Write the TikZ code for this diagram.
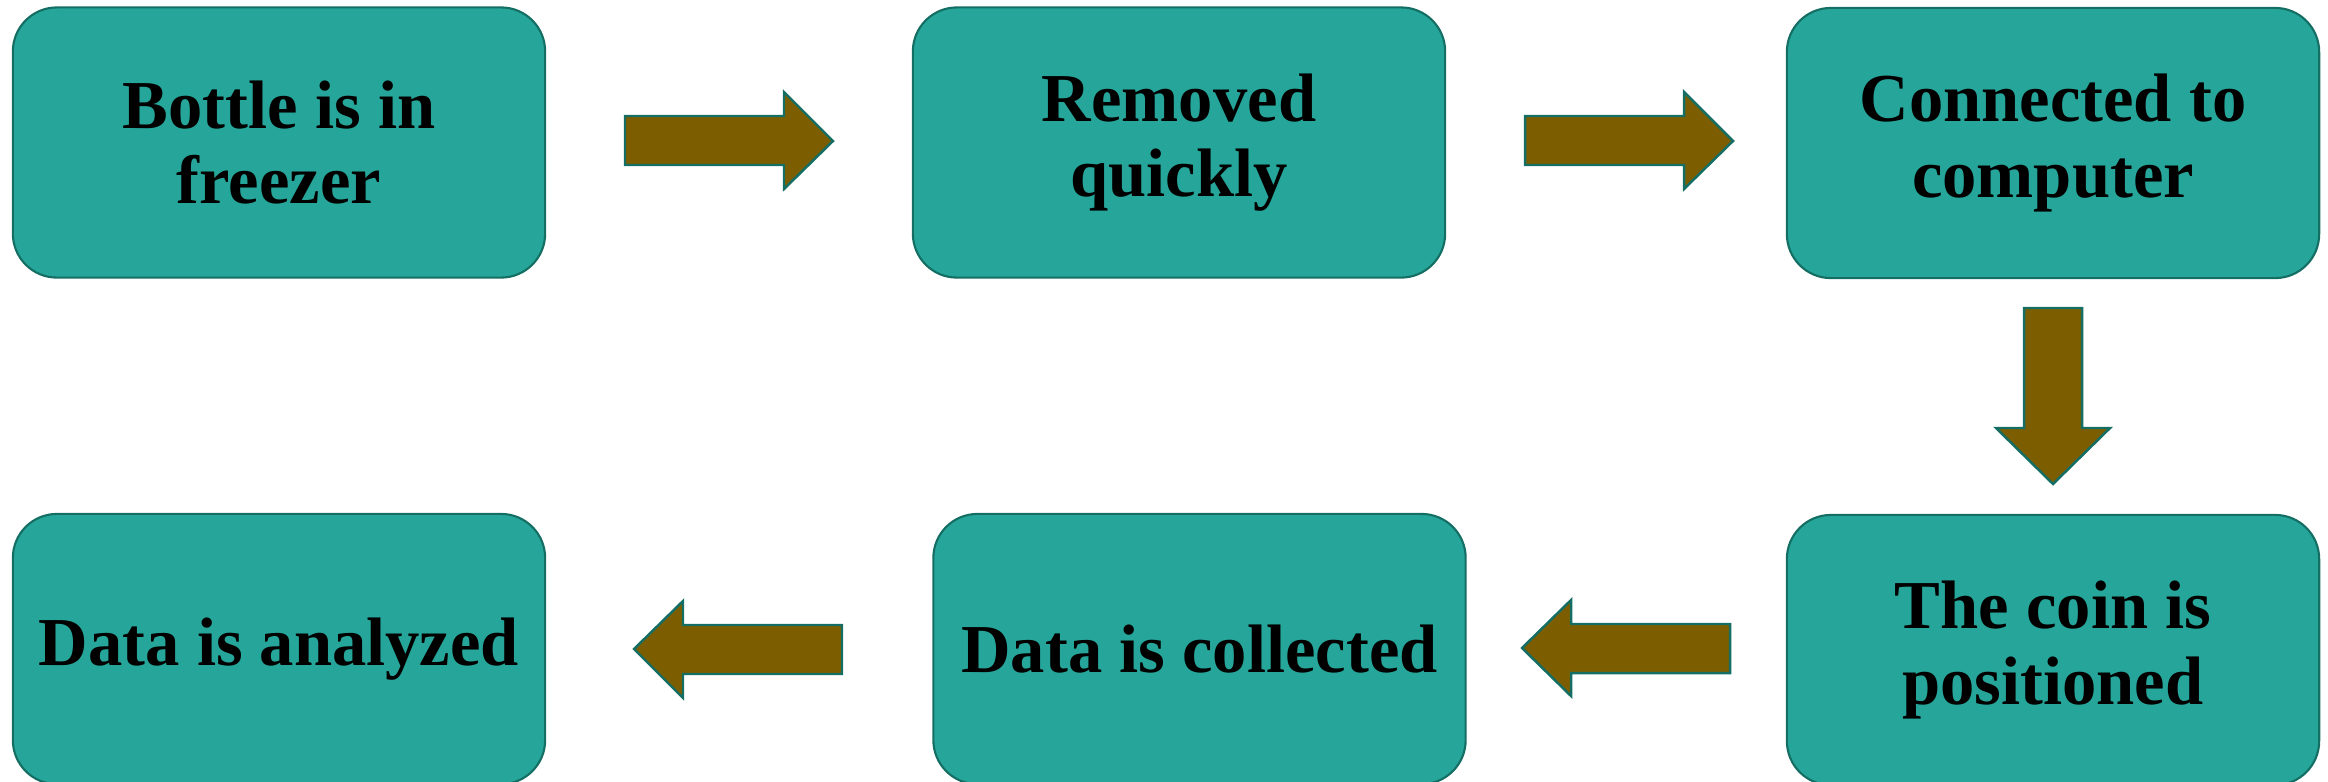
\documentclass[tikz,border=0pt]{standalone}
\usepackage{fontspec}
\setmainfont{Liberation Serif}
\definecolor{boxfill}{RGB}{38,166,154}
\definecolor{boxline}{RGB}{20,110,100}
\definecolor{arrfill}{RGB}{124,94,0}
\begin{document}
\begin{tikzpicture}[x=0.01cm,y=-0.01cm,
  stepbox/.style={draw=boxline, line width=0.6pt, fill=boxfill, rounded corners=0.44cm,
    minimum width=5.32cm, minimum height=2.70cm, align=center, inner sep=0pt,
    font=\bfseries\fontsize{19.5}{21.5}\selectfont, text=black},
  blockarrow/.style={draw=boxline, line width=0.7pt, fill=arrfill, line join=miter}]
\useasboundingbox (0,0) rectangle (2328,781);
\node[stepbox] (b1) at (279,142.5) {Bottle is in\\freezer};
\node[stepbox] (b2) at (1179,142.5) {Removed\\quickly};
\node[stepbox] (b3) at (2053,143) {Connected to\\computer};
\node[stepbox] (b6) at (2053,650) {The coin is\\positioned};
\node[stepbox] (b5) at (1199.5,649) {Data is collected};
\node[stepbox] (b4) at (279,649) {Data is analyzed};
% arrows
\draw[blockarrow] (625,116) -- (784,116) -- (784,92) -- (833,141) -- (784,189) -- (784,165) -- (625,165) -- cycle;
\draw[blockarrow] (1525,116) -- (1684,116) -- (1684,92) -- (1733,141) -- (1684,189) -- (1684,165) -- (1525,165) -- cycle;
\draw[blockarrow] (2024,308) -- (2082,308) -- (2082,428) -- (2110,428) -- (2053,484) -- (1996,428) -- (2024,428) -- cycle;
\draw[blockarrow] (1730,624) -- (1571,624) -- (1571,600) -- (1522,648) -- (1571,696) -- (1571,673) -- (1730,673) -- cycle;
\draw[blockarrow] (842,625) -- (683,625) -- (683,601) -- (634,649) -- (683,698) -- (683,674) -- (842,674) -- cycle;
\end{tikzpicture}
\end{document}
